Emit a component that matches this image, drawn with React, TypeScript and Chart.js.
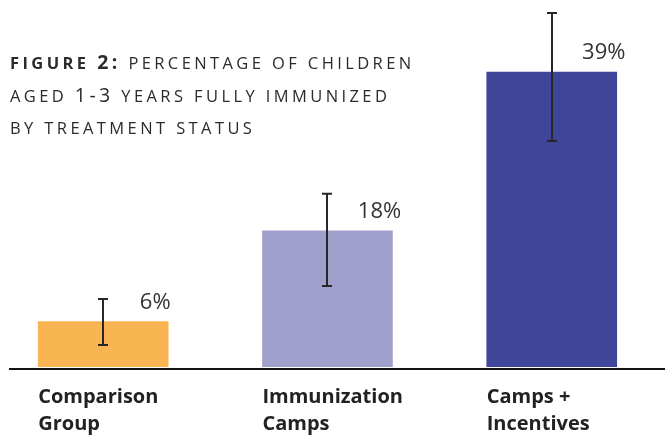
import React, { useEffect, useRef } from "react";
import { Chart, registerables } from "chart.js";

Chart.register(...registerables);

const categories: string[][] = [
  ["Comparison", "Group"],
  ["Immunization", "Camps"],
  ["Camps +", "Incentives"],
];
const values = [6, 18, 39];
const errLow = [2.9, 10.7, 29.9];
const errHigh = [9.0, 22.9, 46.8];
const valueLabels = ["6%", "18%", "39%"];
const barColors = ["#F9B552", "#9FA0CB", "#3F4599"];

const overlayPlugin = {
  id: "overlay",
  afterDatasetsDraw(chart: any) {
    const ctx = chart.ctx;
    const xs = chart.scales.x;
    const ys = chart.scales.y;
    const area = chart.chartArea;
    const meta = chart.getDatasetMeta(0);
    ctx.save();
    const y0 = ys.getPixelForValue(0);
    ctx.fillStyle = "#141414";
    ctx.fillRect(area.left, y0 + 1, area.right - area.left, 2);
    ctx.strokeStyle = "#2a2526";
    ctx.lineWidth = 2;
    values.forEach((v, i) => {
      const x = Math.round(xs.getPixelForValue(i));
      const yh = ys.getPixelForValue(errHigh[i]);
      const yl = ys.getPixelForValue(errLow[i]);
      ctx.beginPath();
      ctx.moveTo(x, yh);
      ctx.lineTo(x, yl);
      ctx.moveTo(x - 5, yh);
      ctx.lineTo(x + 5, yh);
      ctx.moveTo(x - 5, yl);
      ctx.lineTo(x + 5, yl);
      ctx.stroke();
    });
    ctx.fillStyle = "#333333";
    ctx.font = "400 22px 'Open Sans'";
    ctx.textAlign = "center";
    ctx.textBaseline = "middle";
    values.forEach((v, i) => {
      const x = xs.getPixelForValue(i);
      const y = ys.getPixelForValue(v);
      ctx.fillText(valueLabels[i], x + 52, y - 19);
    });
    ctx.fillStyle = "#222222";
    ctx.font = "700 20px 'Open Sans'";
    ctx.textAlign = "left";
    ctx.textBaseline = "alphabetic";
    categories.forEach((lines, i) => {
      const el = meta.data[i];
      const left = el.x - el.width / 2;
      lines.forEach((t, j) => {
        ctx.fillText(t, left, y0 + 36 + j * 27);
      });
    });
    ctx.restore();
  },
};

const sc: React.CSSProperties = { fontSize: 16.5 };
const big: React.CSSProperties = { fontSize: 19.5 };

export default function App() {
  const ref = useRef<HTMLCanvasElement | null>(null);
  useEffect(() => {
    if (!ref.current) return;
    const chart = new Chart(ref.current, {
      type: "bar",
      data: {
        datasets: [
          {
            data: values.map((v, i) => ({ x: i, y: v })),
            backgroundColor: barColors,
            barThickness: 130,
            borderWidth: 0,
          },
        ],
      },
      options: {
        animation: false,
        responsive: false,
        maintainAspectRatio: false,
        layout: { padding: { left: 9, right: 0, top: 0, bottom: 68 } },
        scales: {
          x: { type: "linear", min: -0.42, max: 2.505, offset: false, display: false },
          y: { min: 0, max: 48.53, display: false },
        },
        plugins: { legend: { display: false }, tooltip: { enabled: false } },
      },
      plugins: [overlayPlugin],
    } as any);
    return () => chart.destroy();
  }, []);

  return (
    <div style={{ position: "absolute", left: 0, top: 0, width: 665, height: 435, background: "#fff" }}>
      <canvas ref={ref} width={665} height={435} style={{ display: "block" }} />
      <div
        style={{
          position: "absolute",
          left: 10,
          top: 46,
          fontFamily: "'Open Sans'",
          letterSpacing: "3.4px",
          lineHeight: "32px",
          color: "#2b2b2b",
          whiteSpace: "nowrap",
          ...sc,
        }}
      >
        <div>
          <span style={{ fontWeight: 700 }}>
            FIGURE <span style={big}>2:</span>
          </span>{" "}
          PERCENTAGE OF CHILDREN
        </div>
        <div>
          AGED <span style={big}>1-3</span> YEARS FULLY IMMUNIZED
        </div>
        <div>BY TREATMENT STATUS</div>
      </div>
    </div>
  );
}
